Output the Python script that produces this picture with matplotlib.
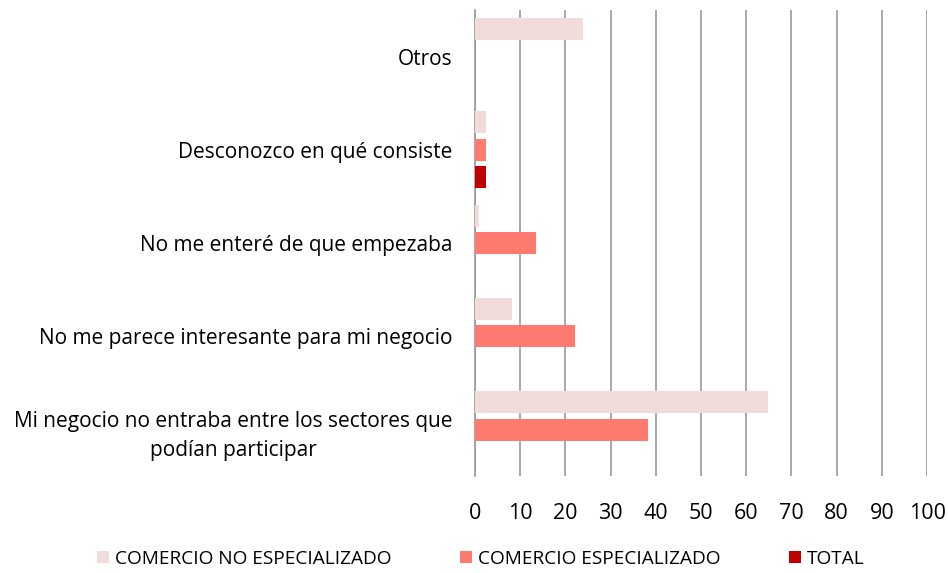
import matplotlib.pyplot as plt
import numpy as np

categories = [
    "Mi negocio no entraba entre los sectores que\npodían participar",
    "No me parece interesante para mi negocio",
    "No me enteré de que empezaba",
    "Desconozco en qué consiste",
    "Otros",
]
no_especializado = [64.7, 8.3, 0.9, 2.4, 23.8]
especializado = [38.2, 22.2, 13.4, 2.4, 0.0]
total = [0.0, 0.0, 0.0, 2.4, 0.0]
series_names = ["COMERCIO NO ESPECIALIZADO", "COMERCIO ESPECIALIZADO", "TOTAL"]
colors = ["#F2DCDB", "#FF7B6F", "#C00000"]
xticks = list(range(0, 101, 10))

plt.rcParams['font.family'] = ['Open Sans', 'DejaVu Sans']

fig = plt.figure(figsize=(9.48, 5.73), dpi=100)
ax = fig.add_axes([0.501, 0.169, 0.477, 0.8135])

y = np.arange(len(categories))
step = 0.295
h = 0.235
series = [no_especializado, especializado, total]
for i, (vals, name, c) in enumerate(zip(series, series_names, colors)):
    ax.barh(y + (1 - i) * step, vals, height=h, color=c, label=name,
            linewidth=0, zorder=3)

ax.set_xlim(0, 100)
ax.set_ylim(-0.5, len(categories) - 0.5)
ax.set_xticks(xticks)
ax.set_xticklabels([str(t) for t in xticks], fontsize=15.5)
ax.set_yticks(y)
ax.set_yticklabels(categories, fontsize=15, multialignment='center', linespacing=1.5)
ax.tick_params(axis='both', length=0)
ax.tick_params(axis='y', pad=16)
ax.tick_params(axis='x', pad=19)
ax.grid(axis='x', color='#9a9a9a', linewidth=1.2, zorder=0)
for s in ['top', 'right', 'bottom']:
    ax.spines[s].set_visible(False)
ax.spines['left'].set_color('#9a9a9a')
ax.spines['left'].set_linewidth(1.2)

handles, labels = ax.get_legend_handles_labels()
fig.legend(handles, labels, loc='center', bbox_to_anchor=(0.507, 0.025), ncol=3,
           frameon=False, fontsize=13.7, handlelength=0.65, handleheight=0.65,
           handletextpad=0.3, columnspacing=3.6)

fig.savefig('out.png', dpi=100)
